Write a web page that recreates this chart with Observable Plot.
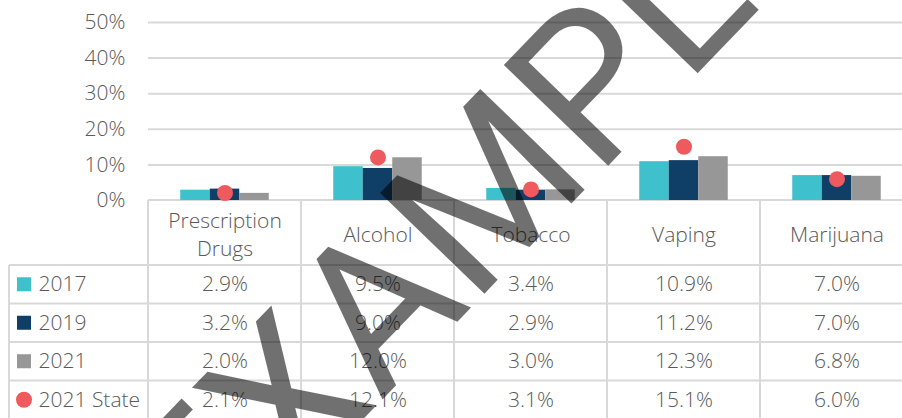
<!DOCTYPE html>
<html><head><meta charset="utf-8">
<script src="https://cdn.jsdelivr.net/npm/d3@7"></script>
<script src="https://cdn.jsdelivr.net/npm/@observablehq/plot@0.6"></script>
<style>
html,body{margin:0;padding:0;background:#fff;}
#wrap{width:902px;height:418px;overflow:hidden;position:relative;}
#wrap svg{max-width:none !important;height:418px !important;}
</style></head><body><div id="wrap"></div>
<script>
// ---- data ----
const categories = ["Prescription Drugs", "Alcohol", "Tobacco", "Vaping", "Marijuana"];
const headerLabels = ["Prescription\nDrugs", "Alcohol", "Tobacco", "Vaping", "Marijuana"];
const seriesNames = ["2017", "2019", "2021", "2021 State"];
const values2017 = [0.029, 0.095, 0.034, 0.109, 0.070];
const values2019 = [0.032, 0.090, 0.029, 0.112, 0.070];
const values2021 = [0.020, 0.120, 0.030, 0.123, 0.068];
const valuesState = [0.021, 0.121, 0.031, 0.151, 0.060];
const yTicks = [0, 0.1, 0.2, 0.3, 0.4, 0.5];
const watermarkText = "EXAMPLE";

// ---- styles ----
const colors = ["#3FC0CD", "#0F3E66", "#979797", "#EF5A5E"];
const textColor = "#595959";
const lineColor = "#D9D9D9";
const font = "'Open Sans', 'Liberation Sans', sans-serif";
const fs = 21;
const W = 913, H = 418, ML = 148, MT = 22, MB = 218;
const headerH = 65, rowH = 38.5;
const bw = (W - ML) / categories.length;
const barW = 29.5, groupW = barW * 3, start = (bw - groupW) / 2;

const allSeries = [values2017, values2019, values2021, valuesState];
const rows = allSeries.map(vals => categories.map((c, j) => ({c, v: vals[j]})));

const marks = [];
marks.push(Plot.ruleY(yTicks.filter(d => d > 0), {stroke: lineColor, strokeWidth: 2}));
[0, 1, 2].forEach(i => {
  marks.push(Plot.barY(rows[i], {
    x: "c", y: "v", fill: colors[i],
    insetLeft: start + i * barW, insetRight: bw - start - (i + 1) * barW
  }));
});
marks.push(Plot.dot(rows[3], {x: "c", y: "v", r: 8, fill: colors[3], stroke: null}));
marks.push(Plot.axisY({ticks: yTicks, tickFormat: d3.format(".0%"), tickSize: 0, tickPadding: 23, fontSize: fs, label: null}));
// table header
marks.push(Plot.text(categories, {
  x: d => d, text: (d, i) => headerLabels[i], frameAnchor: "bottom", lineAnchor: "middle",
  dy: headerH / 2, lineHeight: 1.33, fontSize: fs, fill: textColor
}));
// table rows
rows.forEach((r, i) => {
  marks.push(Plot.text(r, {
    x: "c", text: d => d3.format(".1%")(d.v), frameAnchor: "bottom", lineAnchor: "middle",
    dy: headerH + rowH * (i + 0.5), fontSize: fs, fill: textColor
  }));
  marks.push(Plot.text([seriesNames[i]], {
    text: d => d, frameAnchor: "bottom-left", lineAnchor: "middle", textAnchor: "start",
    dx: -110, dy: headerH + rowH * (i + 0.5), fontSize: fs, fill: textColor
  }));
});

const chart = Plot.plot({
  width: W, height: H,
  marginLeft: ML, marginRight: 0, marginTop: MT, marginBottom: MB,
  style: {fontFamily: font, fontSize: fs + "px", fontWeight: 300, color: textColor, background: "#fff", overflow: "visible", maxWidth: "none"},
  x: {domain: categories, padding: 0, axis: null},
  y: {domain: [0, 0.5], axis: null},
  marks
});
document.getElementById("wrap").appendChild(chart);

// ---- table grid, legend swatches, watermark ----
const svgEl = chart.tagName.toLowerCase() === "svg" ? chart : chart.querySelector("svg");
svgEl.style.maxWidth = "none";
const svg = d3.select(svgEl);
const xs = chart.scale("x"), ys = chart.scale("y");
const x0 = Math.min(...xs.range), x1 = Math.max(...xs.range);
const step = (x1 - x0) / xs.domain.length;
const yBase = Math.max(...ys.range);
const g = svg.insert("g", ":first-child").attr("stroke", lineColor).attr("stroke-width", 2);
// horizontal
g.append("line").attr("x1", x0).attr("x2", x1 + 5).attr("y1", yBase).attr("y2", yBase);
for (let k = 0; k < 5; k++) {
  const yy = yBase + headerH + rowH * k;
  g.append("line").attr("x1", 9).attr("x2", x1 + 5).attr("y1", yy).attr("y2", yy);
}
// vertical
for (let k = 0; k <= xs.domain.length; k++) {
  const xx = x0 + step * k;
  g.append("line").attr("x1", xx).attr("x2", xx).attr("y1", yBase).attr("y2", H + 5);
}
g.append("line").attr("x1", 9).attr("x2", 9).attr("y1", yBase + headerH).attr("y2", H + 5);
// legend swatches
seriesNames.forEach((s, i) => {
  const cy = yBase + headerH + rowH * (i + 0.5);
  if (i < 3) svg.append("rect").attr("x", 17).attr("y", cy - 7).attr("width", 14).attr("height", 14).attr("fill", colors[i]);
  else svg.append("circle").attr("cx", 24).attr("cy", cy).attr("r", 8).attr("fill", colors[i]);
});
// watermark
svg.append("text").text(watermarkText)
  .attr("transform", "translate(211,577) rotate(-46)")
  .attr("text-anchor", "start")
  .attr("font-family", "Roboto, sans-serif").attr("font-size", 204).attr("font-weight", 400)
  .attr("fill", "#000").attr("fill-opacity", 0.56);
</script></body></html>
